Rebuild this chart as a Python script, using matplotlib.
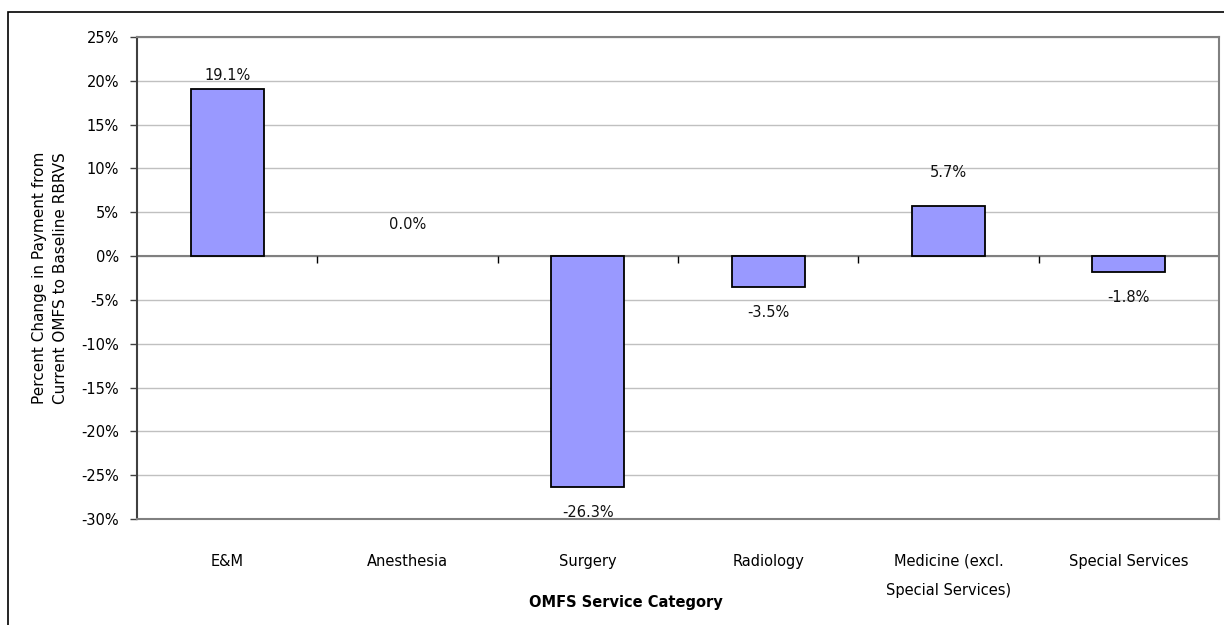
"""OMFS -> baseline RBRVS payment change by service category (bar chart)."""
import numpy as np
import matplotlib as mpl
import matplotlib.pyplot as plt
from matplotlib.patches import Rectangle
from matplotlib.ticker import FuncFormatter

# --- Data -------------------------------------------------------------
CATEGORIES = ["E&M", "Anesthesia", "Surgery", "Radiology",
              "Medicine (excl.\nSpecial Services)", "Special Services"]
PCT_CHANGE = [19.1, 0.0, -26.3, -3.5, 5.7, -1.8]
VALUE_LABELS = ["19.1%", "0.0%", "-26.3%", "-3.5%", "5.7%", "-1.8%"]
Y_TICKS = [25, 20, 15, 10, 5, 0, -5, -10, -15, -20, -25, -30]

# label offsets (pixels from bar end), mimicking the source layout
LABEL_OFFSETS = [13, 32, -26, -26, 34, -26]

mpl.rcParams.update({
    "font.family": "DejaVu Sans",
    "font.size": 10,
})

BAR_COLOR = "#9999FF"
GRID_COLOR = "#C0C0C0"
FRAME_COLOR = "#808080"

W, H = 1224, 625
fig = plt.figure(figsize=(W / 100, H / 100), dpi=100)
ax = fig.add_axes([137 / W, 1 - 519 / H, (1219 - 137) / W, (519 - 37) / H])

x = np.arange(len(CATEGORIES))
edge_w = [1.3 if v != 0 else 0.0 for v in PCT_CHANGE]
ax.bar(x, PCT_CHANGE, width=0.405, color=BAR_COLOR, edgecolor="black",
       linewidth=edge_w, zorder=3)

ax.set_xlim(-0.5, len(CATEGORIES) - 0.5)
ax.set_ylim(min(Y_TICKS), max(Y_TICKS))
ax.set_yticks(Y_TICKS)
ax.yaxis.set_major_formatter(FuncFormatter(lambda v, _: f"{v:.0f}%"))
ax.yaxis.grid(True, color=GRID_COLOR, linewidth=1.0, zorder=0)
ax.set_axisbelow(True)

# zero line with category-boundary ticks
ax.axhline(0, color=FRAME_COLOR, linewidth=1.5, zorder=2)
bounds = np.arange(len(CATEGORIES) + 1) - 0.5
ax.vlines(bounds[1:-1], -0.75, 0, color="black", linewidth=1.0, zorder=2)

# frame
for side in ("top", "right", "bottom"):
    ax.spines[side].set_color(FRAME_COLOR)
    ax.spines[side].set_linewidth(1.5)
ax.spines["left"].set_color("#404040")
ax.spines["left"].set_linewidth(1.5)

ax.tick_params(axis="y", direction="out", length=5, width=1.0,
               color="#404040", pad=8, labelsize=10.5)
ax.set_xticks(x)
ax.set_xticklabels(CATEGORIES)
ax.tick_params(axis="x", length=0, pad=25, labelsize=10.5)
for lbl in ax.get_xticklabels():
    lbl.set_linespacing(2.2)

# data labels
for xi, v, txt, off in zip(x, PCT_CHANGE, VALUE_LABELS, LABEL_OFFSETS):
    ax.annotate(txt, xy=(xi, v), xytext=(0, off * 0.72),
                textcoords="offset points", ha="center", va="center",
                fontsize=10.5, color="#111111", zorder=4)

ax.set_ylabel("Percent Change in Payment from\nCurrent OMFS to Baseline RBRVS",
              fontsize=11, linespacing=1.5)
ax.yaxis.set_label_coords(-0.064, 0.5)

fig.text(626 / W, 1 - 602 / H, "OMFS Service Category", ha="center",
         va="center", fontsize=10.5, fontweight="bold")

# outer chart border (clipped by figure edges on right/bottom)
fig.patches.append(Rectangle((8 / W, -0.05), 1.1, 1 - 12 / H + 0.05,
                             transform=fig.transFigure, fill=False,
                             edgecolor="black", linewidth=1.2))

fig.savefig("out.png", dpi=100)
